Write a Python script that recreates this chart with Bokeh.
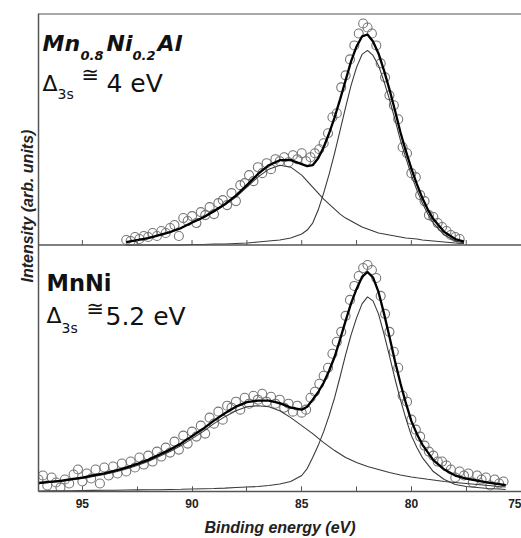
from bokeh.plotting import figure
from bokeh.models import Range1d, Span, Label, SingleIntervalTicker, FixedTicker, Title
from bokeh.embed import file_html
from bokeh.resources import INLINE
import numpy as np

# ---------------- Mn0.8Ni0.2Al : Mn 3s spectrum ----------------
TOP_E = [93.0, 92.5, 92.0, 91.5, 91.0, 90.5, 90.0, 89.5, 89.0, 88.5, 88.0, 87.5,
         87.0, 86.5, 86.0, 85.5,
         85.0, 84.75, 84.5, 84.25, 84.0, 83.75, 83.5, 83.25, 83.0, 82.75, 82.5,
         82.25, 82.0, 81.75, 81.5, 81.25, 81.0, 80.75, 80.5, 80.25, 80.0, 79.75,
         79.5, 79.25, 79.0,
         78.5, 78.0, 77.6]
TOP_MAIN = [0, 0, 0, 0, 0, 0, 0.5, 0.5, 1, 1, 1.5, 2, 3, 4, 5, 7,
            11, 15, 22, 35, 52, 71, 92, 115, 138, 160, 178, 191, 195, 190, 180,
            164, 146, 126, 105, 87, 70, 55, 42, 31, 22,
            10, 4, 2]
TOP_SAT = [3, 5, 7, 10, 13, 17, 22, 27, 33, 40, 48, 58, 68, 76, 80, 78,
           70, 64, 58, 52, 46, 41, 36, 31, 27, 24, 21, 18, 16, 14, 12,
           11, 10, 9, 8, 7, 6.5, 6, 5, 4.5, 4,
           3, 2, 1.5]

TOP_DATA_E = [93.0, 92.8, 92.6, 92.4, 92.2, 92.0, 91.8, 91.6, 91.4, 91.2,
              91.0, 90.8, 90.6, 90.4, 90.2, 90.0, 89.8, 89.6, 89.4, 89.2,
              89.0, 88.8, 88.6, 88.4, 88.2, 88.0, 87.8, 87.6, 87.4, 87.2,
              87.0, 86.8, 86.6, 86.4, 86.2, 86.0, 85.8, 85.6, 85.4, 85.2,
              85.0, 84.8, 84.6, 84.4, 84.2, 84.0, 83.8, 83.6, 83.4, 83.2,
              83.0, 82.8, 82.6, 82.4, 82.2, 82.0, 81.8, 81.6, 81.4, 81.2,
              81.0, 80.8, 80.6, 80.4, 80.2, 80.0, 79.8, 79.6, 79.4, 79.2,
              79.0, 78.8, 78.6, 78.4, 78.2, 78.0, 77.8]
TOP_DATA = [5, 4, 8, 6, 9, 8, 12, 9, 14, 12,
            17, 20, 9, 27, 24, 29, 22, 33, 30, 38,
            31, 42, 45, 40, 52, 44, 60, 62, 70, 64,
            78, 72, 82, 76, 86, 84, 88, 83, 90, 86,
            92, 84, 88, 92, 96, 102, 112, 128, 132, 158,
            170, 186, 200, 212, 222, 218, 212, 200, 182, 168,
            150, 140, 126, 98, 92, 72, 68, 50, 44, 30,
            28, 22, 18, 14, 10, 8, 6]

# ---------------- MnNi : Mn 3s spectrum ----------------
BOT_E = [97.0, 96.5, 96.0, 95.5, 95.0, 94.5, 94.0, 93.5, 93.0, 92.5, 92.0, 91.5,
         91.0, 90.5, 90.0, 89.5, 89.0, 88.5, 88.0, 87.5, 87.0, 86.5, 86.0, 85.5,
         85.0, 84.75, 84.5, 84.25, 84.0, 83.75, 83.5, 83.25, 83.0, 82.75, 82.5,
         82.25, 82.0, 81.75, 81.5, 81.25, 81.0, 80.75, 80.5, 80.25, 80.0, 79.75,
         79.5, 79.25, 79.0,
         78.5, 78.0, 77.5, 77.0, 76.5, 76.0, 75.7]
BOT_MAIN = [0.5, 0.6, 0.7, 0.8, 1, 1.1, 1.2, 1.3, 1.5, 1.6, 1.7, 1.8,
            2, 2.2, 2.5, 2.8, 3, 3.4, 4, 4.5, 5, 6, 7.5, 10,
            16, 23, 34, 46, 60, 76, 94, 115, 137, 157, 174,
            188, 195, 191, 178, 158, 136, 113, 92, 73, 56, 44,
            34, 27, 20,
            12, 7, 5, 4, 3, 2.5, 2]
BOT_SAT = [8, 9, 10, 11.5, 13, 15, 17, 19.5, 22.5, 26, 30, 35,
           40, 46, 53, 60, 68, 75, 81, 85, 86, 85, 81, 74,
           66, 62, 58, 53.5, 49, 45, 41, 37.5, 34, 31.5, 29,
           27, 25, 23.5, 22, 20.5, 19, 17.7, 16.5, 15.5, 14.5, 13.7,
           13, 12.2, 11.5,
           10, 9, 8, 7, 6, 5, 4.5]

BOT_DATA_E = [97.0, 96.8, 96.6, 96.4, 96.2, 96.0, 95.8, 95.6, 95.4, 95.2,
              95.0, 94.8, 94.6, 94.4, 94.2, 94.0, 93.8, 93.6, 93.4, 93.2,
              93.0, 92.8, 92.6, 92.4, 92.2, 92.0, 91.8, 91.6, 91.4, 91.2,
              91.0, 90.8, 90.6, 90.4, 90.2, 90.0, 89.8, 89.6, 89.4, 89.2,
              89.0, 88.8, 88.6, 88.4, 88.2, 88.0, 87.8, 87.6, 87.4, 87.2,
              87.0, 86.8, 86.6, 86.4, 86.2, 86.0, 85.8, 85.6, 85.4, 85.2,
              85.0, 84.8, 84.6, 84.4, 84.2, 84.0, 83.8, 83.6, 83.4, 83.2,
              83.0, 82.8, 82.6, 82.4, 82.2, 82.0, 81.8, 81.6, 81.4, 81.2,
              81.0, 80.8, 80.6, 80.4, 80.2, 80.0, 79.8, 79.6, 79.4, 79.2,
              79.0, 78.8, 78.6, 78.4, 78.2, 78.0, 77.8, 77.6, 77.4, 77.2,
              77.0, 76.8, 76.6, 76.4, 76.2, 76.0, 75.8]
BOT_DATA = [12, 16, 6, 14, 9, 4, 12, 8, 17, 22,
            10, 18, 13, 22, 8, 24, 16, 25, 18, 28,
            20, 30, 24, 34, 27, 36, 30, 40, 35, 44,
            39, 50, 42, 56, 48, 60, 55, 66, 58, 74,
            68, 80, 72, 86, 84, 90, 82, 94, 88, 96,
            92, 98, 90, 95, 88, 92, 84, 88, 80, 86,
            79, 82, 94, 100, 108, 116, 124, 138, 150, 160,
            176, 192, 206, 216, 224, 227, 222, 214, 196, 178,
            160, 140, 124, 96, 90, 72, 62, 55, 46, 40,
            36, 30, 30, 26, 22, 14, 20, 16, 18, 9,
            16, 12, 14, 6, 12, 8, 10]

X_LEFT, X_RIGHT = 97.0, 74.98
PANEL = 247.0          # height of the lower panel; upper spectrum sits above it
Y_TOP = 479.0
FRAME_L, FRAME_W = 38, 483

AXIS_COL = "#555555"
PT_COL = "#767676"
COMP_COL = "#3a3a3a"
TXT = "#111111"

p = figure(width=521, height=538, x_range=Range1d(X_LEFT, X_RIGHT),
           y_range=Range1d(0, Y_TOP), output_backend="svg", toolbar_location=None,
           min_border_left=FRAME_L, min_border_right=0, min_border_top=13,
           min_border_bottom=46)
p.outline_line_color = None
p.background_fill_color = "white"
p.border_fill_color = "white"
p.xgrid.visible = False
p.ygrid.visible = False


def panel(e_data, i_data, e_fit, main, sat, offset):
    y_data = np.asarray(i_data, float) + offset
    main_y = np.asarray(main, float) + offset
    sat_y = np.asarray(sat, float) + offset
    fit_y = np.asarray(main, float) + np.asarray(sat, float) + offset
    p.scatter(x=e_data, y=y_data, size=9, marker="circle", fill_color=None,
              line_color=PT_COL, line_width=1.1)
    p.line(x=e_fit, y=main_y, line_color=COMP_COL, line_width=1.1)
    p.line(x=e_fit, y=sat_y, line_color=COMP_COL, line_width=1.1)
    p.line(x=e_fit, y=fit_y, line_color="black", line_width=2.3)


panel(TOP_DATA_E, TOP_DATA, TOP_E, TOP_MAIN, TOP_SAT, PANEL)
panel(BOT_DATA_E, BOT_DATA, BOT_E, BOT_MAIN, BOT_SAT, 0.0)

# frame lines: top edge and the panel divider
p.add_layout(Span(location=Y_TOP, dimension="width", line_color=AXIS_COL, line_width=2))
p.add_layout(Span(location=PANEL, dimension="width", line_color=AXIS_COL, line_width=1.5))

# inward ticks on the divider
div_ticks = np.arange(77.5, 97.0, 2.5)
p.segment(x0=div_ticks, y0=[PANEL] * len(div_ticks), x1=div_ticks,
          y1=[PANEL + 5] * len(div_ticks), line_color=AXIS_COL, line_width=1)

# x axis
xa = p.xaxis[0]
xa.ticker = SingleIntervalTicker(interval=5, num_minor_ticks=2)
xa.major_tick_in = 5
xa.major_tick_out = 0
xa.minor_tick_in = 5
xa.minor_tick_out = 0
xa.axis_line_color = AXIS_COL
xa.axis_line_width = 1.5
xa.major_tick_line_color = AXIS_COL
xa.minor_tick_line_color = AXIS_COL
xa.major_label_text_font = "Liberation Sans"
xa.major_label_text_font_style = "bold"
xa.major_label_text_font_size = "12px"
xa.major_label_text_color = "#222222"
xa.major_label_standoff = 7
xa.axis_label = "Binding energy (eV)"
xa.axis_label_text_font = "Liberation Sans"
xa.axis_label_text_font_style = "bold italic"
xa.axis_label_text_font_size = "16px"
xa.axis_label_text_color = "#222222"
xa.axis_label_standoff = 8

# y axis: plain line; its title is a side title placed along the left edge
ya = p.yaxis[0]
ya.ticker = FixedTicker(ticks=[])
ya.major_tick_in = 0
ya.major_tick_out = 0
ya.minor_tick_in = 0
ya.minor_tick_out = 0
ya.major_label_text_font_size = "0px"
ya.major_label_standoff = 0
ya.axis_line_color = AXIS_COL
ya.axis_line_width = 1.5

p.add_layout(Title(text="Intensity (arb. units)", align="left", offset=209,
                   text_font="Liberation Sans", text_font_style="bold italic",
                   text_font_size="16px", text_color="#222222", standoff=6),
             "left")


def at(px, py):
    """screen pixel -> data coordinates"""
    return X_LEFT - (px - FRAME_L) * (X_LEFT - X_RIGHT) / FRAME_W, 492 - py


def text(s, px, py, size, font="DejaVu Sans", style="normal"):
    x, y = at(px, py)
    p.add_layout(Label(x=x, y=y, text=s, text_font=font, text_font_style=style,
                       text_font_size=size, text_color=TXT, text_align="left",
                       text_baseline="alphabetic"))


# upper panel annotation
text("Mn", 42, 43, "22px", style="bold italic")
text("0.8", 80, 55, "13px", style="bold italic")
text("Ni", 106, 43, "22px", style="bold italic")
text("0.2", 132, 55, "13px", style="bold italic")
text("Al", 157, 43, "22px", style="bold italic")
text("\u0394", 42, 83, "22px")
text("3s", 57, 94, "14px")
text("\u2245", 81, 75, "21px")
text("4 eV", 106, 83, "25px")

# lower panel annotation
text("MnNi", 46, 283, "22.5px", style="bold")
text("\u0394", 46, 316, "22px")
text("3s", 61, 328, "14px")
text("\u2245", 86, 309, "21px")
text("5.2 eV", 105, 317, "25px")

open("out.html", "w").write(file_html(p, INLINE))
